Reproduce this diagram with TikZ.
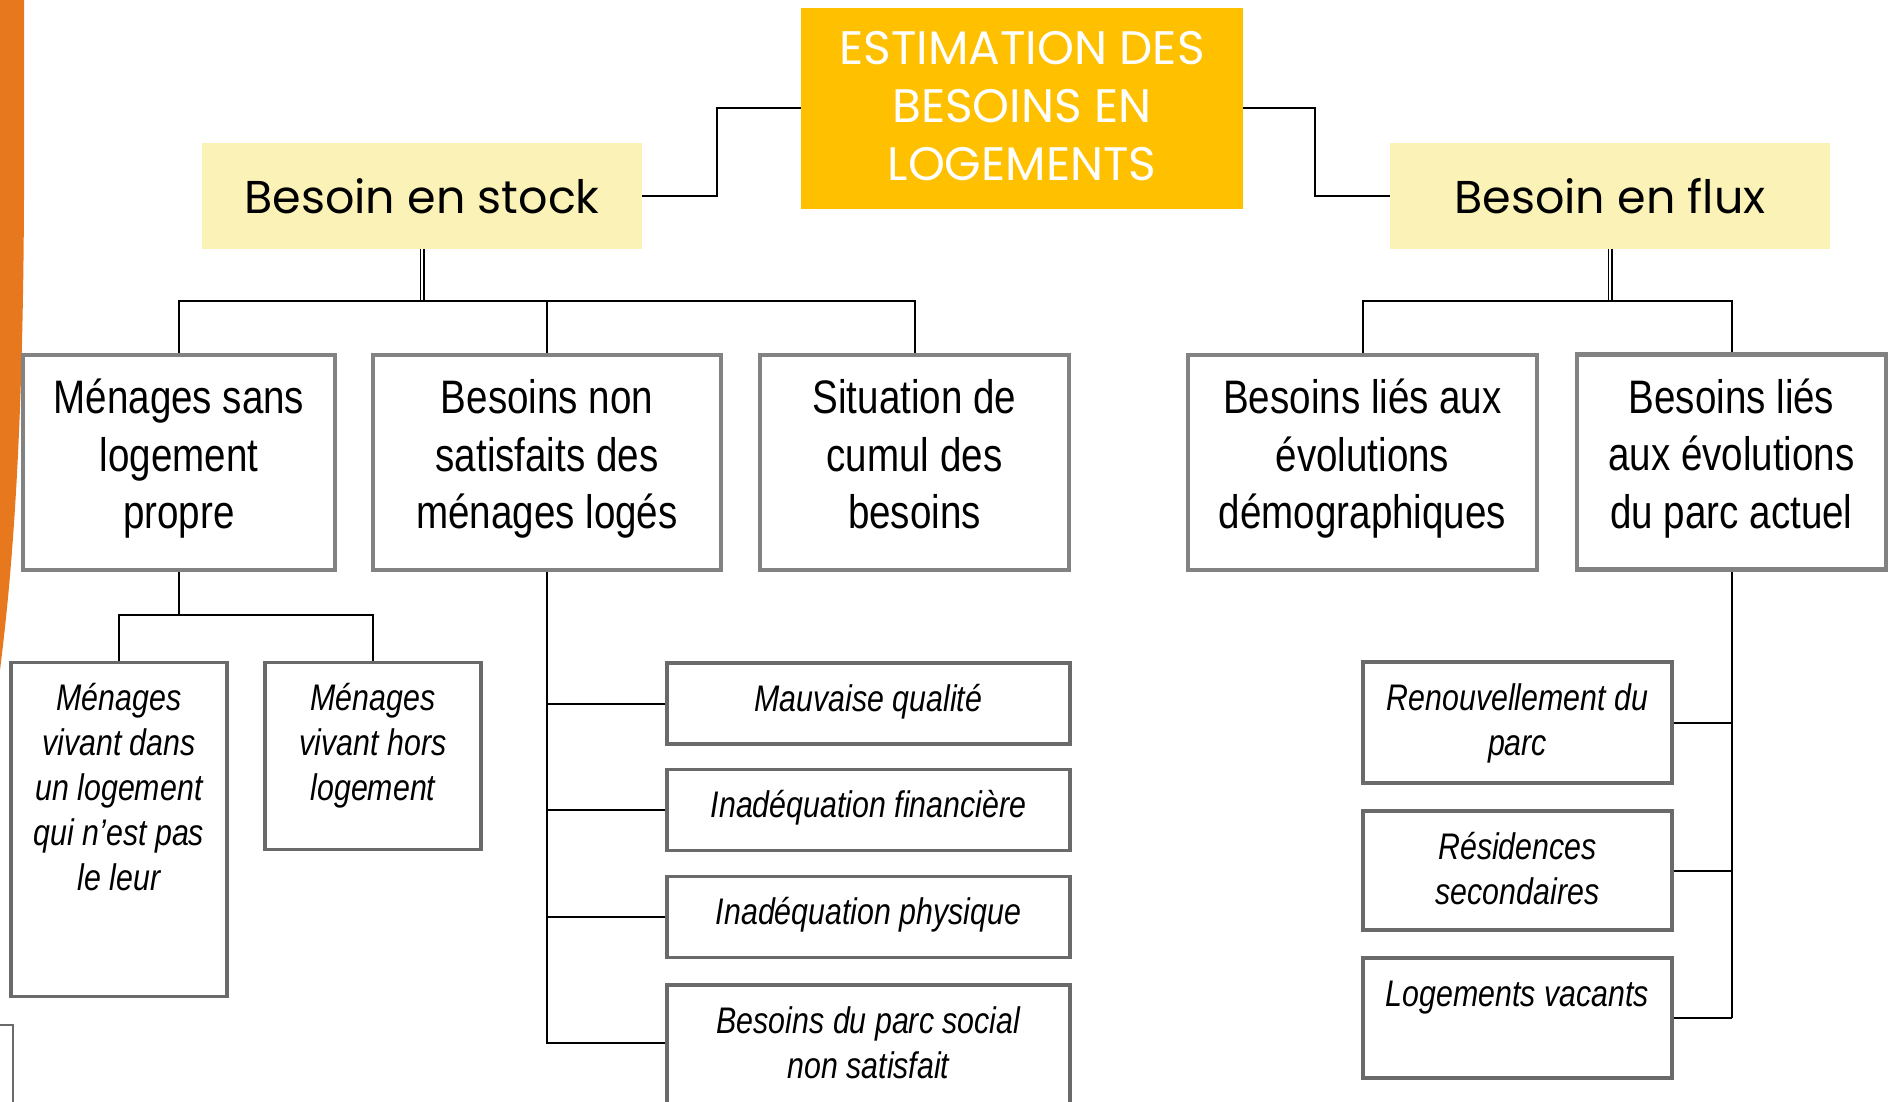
\documentclass[tikz,border=0pt]{standalone}
\usepackage{fontspec}
\setmainfont{Liberation Sans}[FakeStretch=0.82]
\newfontfamily\gothicfont{Poppins}
\usetikzlibrary{calc,positioning}
\definecolor{besoinGold}{HTML}{FFC000}
\definecolor{besoinCream}{HTML}{FBF2B7}
\definecolor{besoinOrange}{HTML}{E8781E}
\definecolor{besoinGrey}{HTML}{828282}
\definecolor{besoinDark}{HTML}{6A6A6A}
\newcommand{\topcell}[3]{\parbox[c][#2][t]{#1}{\centering\rule{0pt}{17.2pt}#3}}

\begin{document}
\begin{tikzpicture}[x=0.5pt, y=-0.5pt,
    title/.style={fill=besoinGold, text=white, align=center, minimum width=221pt, minimum height=100.5pt, font=\gothicfont\fontsize{23.5}{29}\selectfont, execute at end node={\rule[-3pt]{0pt}{0pt}}},
    branch/.style={fill=besoinCream, minimum width=220pt, minimum height=53pt, font=\gothicfont\fontsize{23}{28}\selectfont},
    need/.style={draw=besoinGrey, line width=2.25pt, fill=white, align=center, minimum height=107.5pt, font=\fontsize{23.5}{28.7}\selectfont, execute at end node={\rule[-8.5pt]{0pt}{0pt}}},
    detail/.style={draw=besoinDark, line width=1.6pt, fill=white, inner xsep=0pt, inner ysep=7pt, font=\itshape\fontsize{18.5}{22.5}\selectfont},
    link/.style={draw=black, line width=1pt},
    twin/.style={draw=black, double, double distance=1pt, line width=0.75pt}]
  \clip (0,0) rectangle (1892,1102);
  \fill[besoinOrange] (0,0) -- (24,0) -- (24,200) .. controls (23,420) and (14,560) .. (0,670) -- cycle;
  \draw[besoinDark, line width=0.75pt] (0,1025) -- (13,1025) -- (13,1102);

  \node[title] (title) at (1022,108.5) {ESTIMATION DES\\BESOINS EN\\LOGEMENTS};
  \node[branch] (stock) at (422,196) {Besoin en stock};
  \node[branch] (flux) at (1610,196) {Besoin en flux};

  \node[need, minimum width=156pt] (m1) at (179,462.5) {Ménages sans\\logement\\propre};
  \node[need, minimum width=174pt] (m2) at (547,462.5) {Besoins non\\satisfaits des\\ménages logés};
  \node[need, minimum width=154.5pt] (m3) at (914.5,462.5) {Situation de\\cumul des\\besoins};
  \node[need, minimum width=174.5pt] (f1) at (1362.5,462.5) {Besoins liés aux\\évolutions\\démographiques};
  \node[need, minimum width=154.5pt] (f2) at (1731.5,462) {Besoins liés\\aux évolutions\\du parc actuel};

  \node[detail] (a1) at (119,829.5) {\topcell{108pt}{153pt}{Ménages\\vivant dans\\un logement\\qui n’est pas\\le leur}};
  \node[detail] (a2) at (373,756) {\topcell{108pt}{79.5pt}{Ménages\\vivant hors\\logement}};
  \node[detail] (q1) at (868.5,703.5) {\topcell{201.5pt}{26.5pt}{Mauvaise qualité}};
  \node[detail] (q2) at (868.5,810) {\topcell{201.5pt}{26.5pt}{Inadéquation financière}};
  \node[detail] (q3) at (868.5,917) {\topcell{201.5pt}{26.5pt}{Inadéquation physique}};
  \node[detail] (q4) at (868.5,1065) {\topcell{201.5pt}{66pt}{Besoins du parc social\\non satisfait}};
  \node[detail] (r1) at (1517.5,722.5) {\topcell{154.5pt}{46.5pt}{Renouvellement du\\parc}};
  \node[detail] (r2) at (1517.5,870.5) {\topcell{154.5pt}{45.5pt}{Résidences\\secondaires}};
  \node[detail] (r3) at (1517.5,1018) {\topcell{154.5pt}{46pt}{Logements vacants}};

  \coordinate (sbar) at (419,301);
  \coordinate (fbar) at (1608,301);
  \coordinate (mjoin) at (180,615);
  \coordinate (q4-in) at ($(q4.north west)+(0,60)$);

  \draw[link] (title.west) -- ++(-84,0) |- (stock.east);
  \draw[link] (title.east) -- ++(72,0) |- (flux.west);
  \draw[twin] (stock.south) -- (stock.south |- sbar);
  \draw[link] (m1.north) |- (sbar) -| (m3.north);
  \draw[link] (m2.north) -- (m2.north |- sbar);
  \draw[twin] (flux.south) -- (flux.south |- fbar);
  \draw[link] (f1.north) |- (fbar) -| (f2.north);

  \draw[link] (m1.south) -- (m1.south |- mjoin);
  \draw[link] (a1.north) |- (mjoin) -| (a2.north);
  \draw[link] (m2.south) |- (q4-in);
  \foreach \q in {q1,q2,q3}
    \draw[link] (\q.west) -- (m2.south |- \q.west);

  \draw[link] (f2.south) -- (f2.south |- r3.east);
  \foreach \r in {r1,r2,r3}
    \draw[link] (\r.east) -- (f2.south |- \r.east);
\end{tikzpicture}
\end{document}
